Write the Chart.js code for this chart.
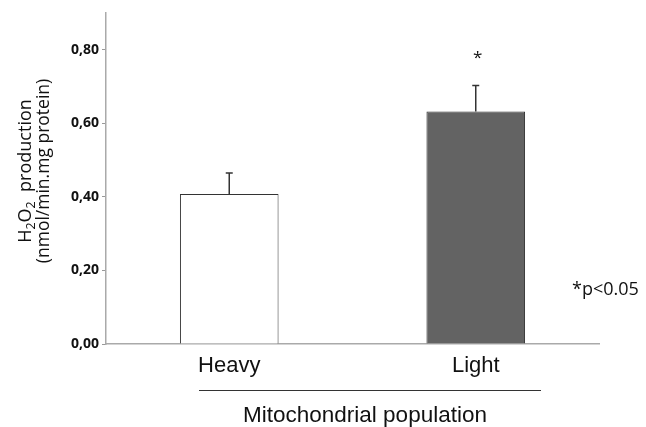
<!DOCTYPE html>
<html>
<head>
<meta charset="utf-8">
<script src="https://cdn.jsdelivr.net/npm/chart.js@4"></script>
<style>
  html, body { margin: 0; padding: 0; background: #fff; }
  #wrap { width: 646px; height: 427px; }
</style>
</head>
<body>
<div id="wrap"><canvas id="chart"></canvas></div>
<script>
// data
const populations = ['Heavy', 'Light'];
const h2o2Means = [0.408, 0.632];
const h2o2Errors = [0.057, 0.071];
const significant = [false, true];
const yTicks = [0, 0.2, 0.4, 0.6, 0.8];

const barFill = ['#ffffff', '#636363'];

// error bars, significance star, x title with its rule, y title and p note
const extras = {
    id: 'extras',
    afterDatasetsDraw(chart) {
        const { ctx } = chart;
        const x = chart.scales.x;
        const y = chart.scales.y;

        ctx.save();
        ctx.strokeStyle = '#333';
        ctx.lineWidth = 1.5;
        h2o2Means.forEach((v, i) => {
            const px = x.getPixelForValue(i);
            const top = y.getPixelForValue(v + h2o2Errors[i]);
            ctx.beginPath();
            ctx.moveTo(px, y.getPixelForValue(v));
            ctx.lineTo(px, top);
            ctx.moveTo(px - 3.5, top);
            ctx.lineTo(px + 3.5, top);
            ctx.stroke();

            if (significant[i]) {
                ctx.fillStyle = '#111';
                ctx.font = '17px "Open Sans"';
                ctx.textAlign = 'center';
                ctx.textBaseline = 'alphabetic';
                ctx.fillText('*', px + 2, top - 22);
            }
        });
        ctx.restore();
    },
    afterDraw(chart) {
        const { ctx } = chart;
        ctx.save();

        // rule under the category labels
        ctx.strokeStyle = '#333';
        ctx.lineWidth = 1;
        ctx.beginPath();
        ctx.moveTo(199, 390.5);
        ctx.lineTo(541, 390.5);
        ctx.stroke();

        ctx.fillStyle = '#111';
        ctx.font = '22.5px "Liberation Sans", Arial, sans-serif';
        ctx.textAlign = 'center';
        ctx.textBaseline = 'alphabetic';
        ctx.fillText('Mitochondrial population', 365, 422);

        ctx.font = '18px "Open Sans"';
        ctx.textAlign = 'left';
        ctx.fillText('*p<0.05', 572, 295);

        // y title, rotated, with subscripts
        ctx.translate(0, 171);
        ctx.rotate(-Math.PI / 2);
        const big = '18px "Open Sans"';
        const small = '12.5px "Open Sans"';
        const parts = [['H', big, 0], ['2', small, 4], ['O', big, 0], ['2', small, 4], ['  production', big, 0]];
        let total = 0;
        parts.forEach(p => { ctx.font = p[1]; total += ctx.measureText(p[0]).width; });
        let cx = -total / 2;
        parts.forEach(p => {
            ctx.font = p[1];
            ctx.fillText(p[0], cx, 31 + p[2]);
            cx += ctx.measureText(p[0]).width;
        });
        ctx.font = '17.5px "Open Sans"';
        ctx.textAlign = 'center';
        ctx.fillText('(nmol/min.mg protein)', 0, 49);

        ctx.restore();
    }
};

const fmtTick = v => v.toFixed(2).replace('.', ',');

new Chart(document.getElementById('chart'), {
    type: 'bar',
    data: {
        labels: populations,
        datasets: [{
            data: h2o2Means,
            backgroundColor: barFill,
            borderColor: '#333',
            borderWidth: 1,
            borderSkipped: 'bottom',
            barPercentage: 0.8,
            categoryPercentage: 0.5
        }]
    },
    options: {
        responsive: true,
        maintainAspectRatio: false,
        animation: false,
        layout: { padding: { left: 0, right: 47, top: 13, bottom: 0 } },
        plugins: {
            legend: { display: false },
            tooltip: { enabled: false }
        },
        scales: {
            x: {
                offset: true,
                grid: { display: true, drawOnChartArea: false, drawTicks: false },
                border: { color: '#aaa', width: 1.5 },
                ticks: {
                    color: '#111',
                    padding: 9,
                    font: { family: '"Liberation Sans", Arial, sans-serif', size: 22 }
                },
                afterFit(scale) { scale.height = 83; }
            },
            y: {
                min: 0,
                max: 0.9,
                grid: { drawOnChartArea: false, tickLength: 4, color: '#999' },
                border: { color: '#aaa', width: 1.5 },
                ticks: {
                    color: '#111',
                    padding: 3,
                    font: { family: '"Open Sans"', size: 14, weight: '700' },
                    callback: v => fmtTick(v)
                },
                afterBuildTicks(scale) {
                    scale.ticks = yTicks.map(v => ({ value: v }));
                },
                afterFit(scale) { scale.width = 106; }
            }
        }
    },
    plugins: [extras]
});
</script>
</body>
</html>
